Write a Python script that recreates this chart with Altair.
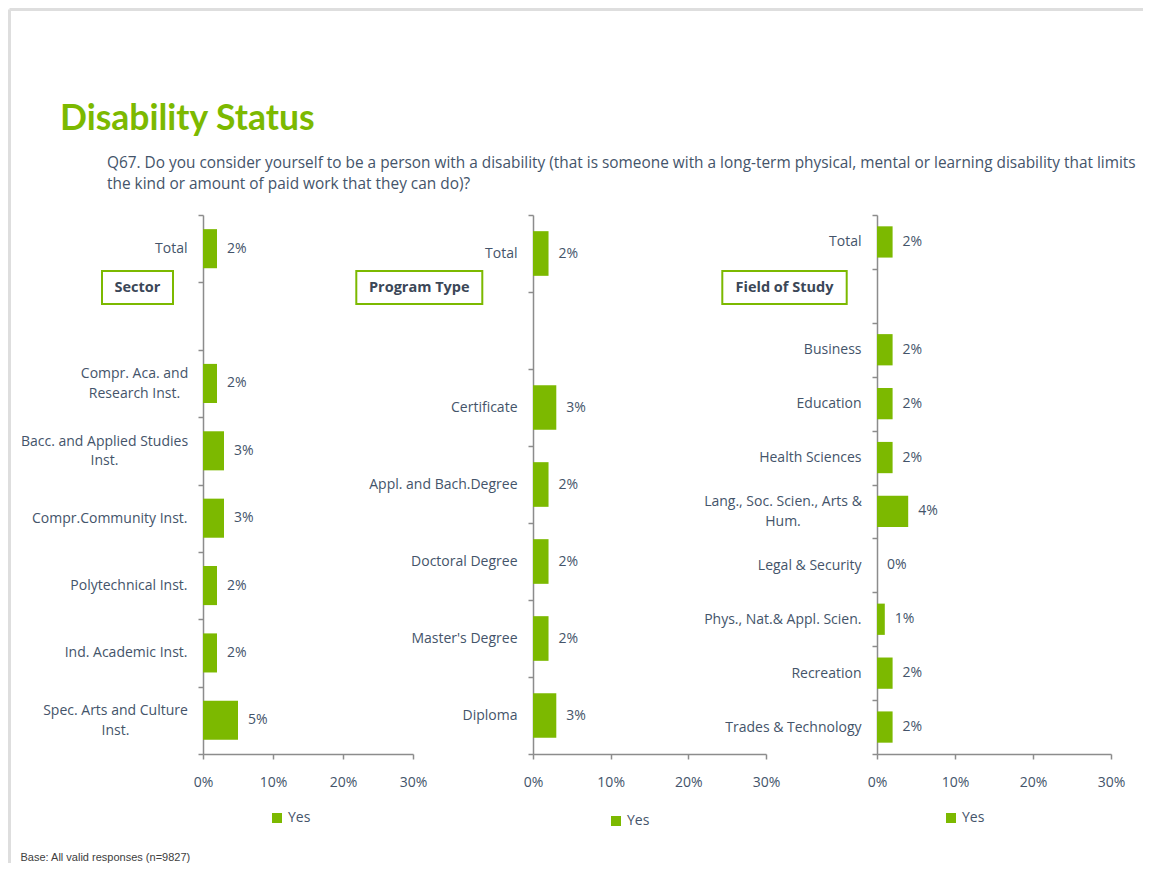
import json
import altair as alt
import pandas as pd

# ---------------- data ----------------
title_text = "Disability Status"
question_lines = [
    "Q67. Do you consider yourself to be a person with a disability (that is someone with a long-term physical, mental or learning disability that limits",
    "the kind or amount of paid work that they can do)?",
]
footer_text = "Base: All valid responses (n=9827)"
series_name = "Yes"

sector_title = "Sector"
sector_cats = [
    "Total", " ",
    "Compr. Aca. and\nResearch Inst.",
    "Bacc. and Applied Studies\nInst.",
    "Compr.Community Inst.",
    "Polytechnical Inst.",
    "Ind. Academic Inst.",
    "Spec. Arts and Culture\nInst.",
]
sector_vals = [2, None, 2, 3, 3, 2, 2, 5]

program_title = "Program Type"
program_cats = [
    "Total", " ", "Certificate", "Appl. and Bach.Degree",
    "Doctoral Degree", "Master's Degree", "Diploma",
]
program_vals = [2, None, 3, 2, 2, 2, 3]

field_title = "Field of Study"
field_cats = [
    "Total", " ", "Business", "Education", "Health Sciences",
    "Lang., Soc. Scien., Arts &\nHum.",
    "Legal & Security", "Phys., Nat.& Appl. Scien.",
    "Recreation", "Trades & Technology",
]
field_vals = [2, None, 2, 2, 2, 4, 0, 1, 2, 2]

x_ticks = [0, 10, 20, 30]

# ---------------- style ----------------
GREEN = "#7cb900"
TEXT = "#44546a"
AXIS = "#8c8c8c"
FRAME = "#dedede"
FONT = "Open Sans"
PH = 539                      # panel plot height
OX, OY = 195, 207             # origin of first panel inside the chart
LINE_H = 19.5


def one(col, value):
    return pd.DataFrame({col: [value]})


def text_mark(txt, x, y, **kw):
    return alt.Chart(one("t", txt)).mark_text(**kw).encode(
        x=alt.value(x - OX), y=alt.value(y - OY), text="t:N")


def box(label, x1, x2, y1, y2):
    r = alt.Chart(one("t", label)).mark_rect(
        fill="white", stroke=GREEN, strokeWidth=2).encode(
        x=alt.value(x1 - OX), x2=alt.value(x2 - OX),
        y=alt.value(y1 - OY), y2=alt.value(y2 - OY))
    t = alt.Chart(one("t", label)).mark_text(
        font=FONT, fontSize=14.5, fontWeight="bold", color="#3b4757",
        align="center", baseline="middle").encode(
        x=alt.value((x1 + x2) / 2 - OX), y=alt.value((y1 + y2) / 2 + 0.5 - OY),
        text="t:N")
    return [r, t]


def panel(cats, vals, width, xr, legend_xy, multi_pad, extra=()):
    df = pd.DataFrame({"cat": cats, "value": vals})
    df = df.dropna(subset=["value"]).copy()
    df["series"] = series_name
    df["label"] = df["value"].map(lambda v: f"{v:.0f}%")

    tests = [(f"datum.value === {json.dumps(c)}", p) for c, p in multi_pad.items()]
    if tests:
        align = {"condition": [{"test": t, "value": "center"} for t, _ in tests], "value": "right"}
        pad = {"condition": [{"test": t, "value": p} for t, p in tests], "value": 11}
        offs = {"condition": [{"test": t, "value": -LINE_H / 2} for t, _ in tests], "value": 0}
    else:
        align, pad, offs = "right", 11, 0

    yscale = alt.Scale(domain=cats, paddingInner=0, paddingOuter=0)
    xscale = alt.Scale(domain=[0, 30], range=list(xr), nice=False)

    y_axis = alt.Axis(title=None, tickBand="extent", tickSize=5,
                      labelPadding=pad, labelAlign=align, labelOffset=offs,
                      labelExpr="split(datum.label, '\\n')", labelLineHeight=LINE_H,
                      labelLimit=400)
    x_axis = alt.Axis(title=None, values=x_ticks, labelExpr="datum.value + '%'",
                      tickSize=5, labelPadding=16, labelFlush=False, grid=False)

    bars = alt.Chart(df).mark_bar(height=alt.RelativeBandSize(0.58)).encode(
        x=alt.X("value:Q", scale=xscale, axis=x_axis),
        y=alt.Y("cat:N", scale=yscale, axis=y_axis),
        color=alt.Color("series:N",
                        scale=alt.Scale(domain=[series_name], range=[GREEN]),
                        legend=alt.Legend(orient="none", legendX=legend_xy[0],
                                          legendY=legend_xy[1], title=None,
                                          symbolType="square", symbolSize=100,
                                          symbolStrokeWidth=0, labelFont=FONT,
                                          labelFontSize=14, labelColor=TEXT,
                                          padding=0, labelOffset=4)),
    )
    # no axis spec here: an axis=None in one layer would remove the shared axis
    labels = alt.Chart(df).mark_text(
        align="left", baseline="middle", dx=10, font=FONT, fontSize=14, color=TEXT
    ).encode(
        x=alt.X("value:Q", scale=xscale),
        y=alt.Y("cat:N", scale=yscale),
        text="label:N",
    )
    return alt.layer(*extra, bars, labels).properties(width=width, height=PH)


# decorations (chart coordinates, converted to the first panel's frame)
frame_top = alt.Chart(one("k", 0)).mark_rule(color=FRAME, strokeWidth=3).encode(
    x=alt.value(1.5 - OX), x2=alt.value(1135 - OX), y=alt.value(1.5 - OY))
frame_left = alt.Chart(one("k", 0)).mark_rule(color=FRAME, strokeWidth=3).encode(
    x=alt.value(1.5 - OX), y=alt.value(1.5 - OY), y2=alt.value(855 - OY))

title = text_mark(title_text, 52, 122, font="Lato", fontSize=35.5, fontWeight="bold",
                  color=GREEN, align="left", baseline="alphabetic")
q1 = text_mark(question_lines[0], 99, 160, font=FONT, fontSize=15.4, color=TEXT,
               align="left", baseline="alphabetic")
q2 = text_mark(question_lines[1], 99, 181, font=FONT, fontSize=15.4, color=TEXT,
               align="left", baseline="alphabetic")
footer = text_mark(footer_text, 12.5, 853, font="Liberation Sans", fontSize=11,
                   color="#404040", align="left", baseline="alphabetic")

decor = [frame_top, frame_left, title, q1, q2, footer]
decor += box(sector_title, 94, 165, 263, 296)
decor += box(program_title, 348.3, 474.3, 263, 296)
decor += box(field_title, 714.3, 838.7, 263, 296)

p1 = panel(sector_cats, sector_vals, 219, (0, 210), (67, 596),
           {sector_cats[2]: 64, sector_cats[3]: 94, sector_cats[7]: 83},
           extra=decor)
p2 = panel(program_cats, program_vals, 233, (0, 233), (76, 599), {})
p3 = panel(field_cats, field_vals, 234, (0, 234), (67, 596),
           {field_cats[5]: 89.5})

chart = alt.hconcat(
    p1, p2, p3, spacing=111, bounds="flush"
).resolve_scale(
    color="independent"
).properties(
    padding=0
).configure_view(
    strokeWidth=0
).configure_axis(
    labelFont=FONT, labelFontSize=14, labelColor=TEXT, domainColor=AXIS,
    tickColor=AXIS, domainWidth=1.5, tickWidth=1.5, grid=False
)

chart.save("out.html", embed_options={"renderer": "svg", "actions": False})
